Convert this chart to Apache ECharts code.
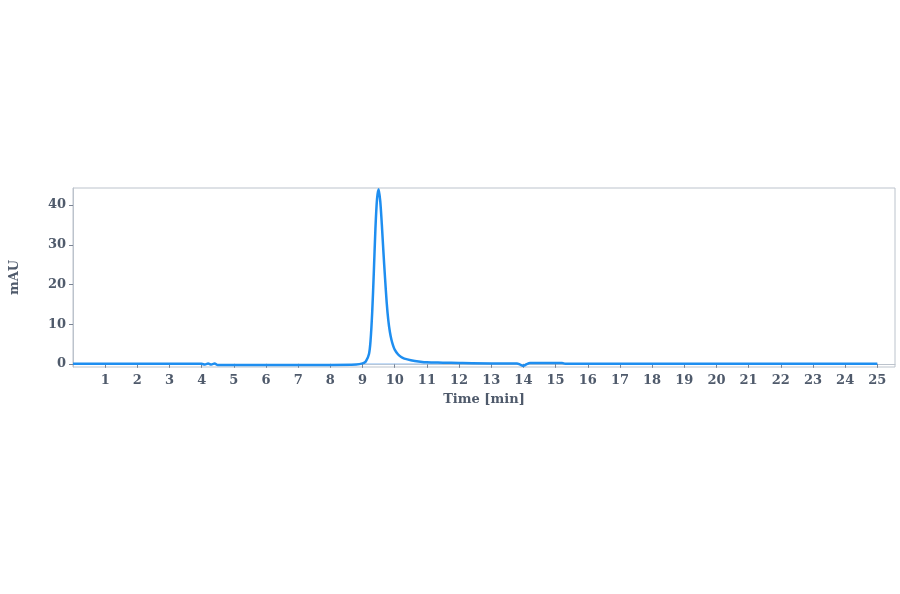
<!DOCTYPE html>
<html>
<head>
<meta charset="utf-8">
<script src="https://cdn.jsdelivr.net/npm/echarts@6/dist/echarts.min.js"></script>
<style>
html,body{margin:0;padding:0;background:#ffffff;}
#chart{width:900px;height:594px;}
</style>
</head>
<body>
<div id="chart"></div>
<script>
// Time (min) and absorbance (mAU)
const times = [0, 1, 2, 3, 4, 4.1, 4.2, 4.3, 4.4, 4.5, 4.6, 5, 6, 7, 8, 8.8, 9.0, 9.1, 9.2, 9.25, 9.3, 9.35, 9.4, 9.45, 9.5, 9.55, 9.6, 9.65, 9.7, 9.75, 9.8, 9.85, 9.9, 9.95, 10.0, 10.1, 10.2, 10.3, 10.5, 10.8, 11.0, 11.5, 12, 13, 13.8, 13.9, 14.0, 14.1, 14.2, 15.2, 15.3, 16, 17, 18, 19, 20, 21, 22, 23, 24, 25];
const mAU   = [0, 0, 0, 0, 0, -0.2, 0.1, -0.2, 0.1, -0.3, -0.3, -0.3, -0.3, -0.3, -0.3, -0.2, 0.1, 0.6, 2.5, 6.0, 13, 23, 34, 41.5, 44, 41, 35, 28, 21.5, 15.5, 11, 8, 6, 4.6, 3.6, 2.4, 1.7, 1.3, 0.9, 0.55, 0.4, 0.3, 0.2, 0.1, 0.1, -0.2, -0.5, -0.1, 0.2, 0.2, 0, 0, 0, 0, 0, 0, 0, 0, 0, 0, 0];
const baseTimes = [9.1, 11.5];
const baseVals = [0, 0];
const xTicks = [1,2,3,4,5,6,7,8,9,10,11,12,13,14,15,16,17,18,19,20,21,22,23,24,25];
const yTicks = [0, 10, 20, 30, 40];

const font = 'DejaVu Serif';
const txt = '#4f5a6b';
const chart = echarts.init(document.getElementById('chart'));
chart.setOption({
  backgroundColor: '#ffffff',
  animation: false,
  grid: {left: 73, right: 5, top: 188, bottom: 227, show: true, borderColor: '#bcc3cc', borderWidth: 1},
  xAxis: {
    type: 'value', min: 0, max: 25.55,
    name: 'Time [min]', nameLocation: 'middle', nameGap: 26,
    nameTextStyle: {fontFamily: font, fontSize: 13, fontWeight: 'bold', color: txt},
    axisLine: {show: true, lineStyle: {color: '#bcc3cc'}},
    axisTick: {show: true, length: 4, lineStyle: {color: '#7a8494'}, customValues: xTicks},
    axisLabel: {fontFamily: font, fontSize: 13, fontWeight: 'bold', color: txt, margin: 7, customValues: xTicks},
    splitLine: {show: false}
  },
  yAxis: {
    type: 'value', min: -0.8, max: 44.3,
    name: 'mAU', nameLocation: 'middle', nameGap: 52, nameRotate: 90,
    nameTextStyle: {fontFamily: font, fontSize: 13, fontWeight: 'bold', color: txt},
    axisLine: {show: true, lineStyle: {color: '#bcc3cc'}},
    axisTick: {show: true, length: 4, lineStyle: {color: '#7a8494'}, customValues: yTicks},
    axisLabel: {fontFamily: font, fontSize: 13, fontWeight: 'bold', color: txt, margin: 7, customValues: yTicks},
    splitLine: {show: false}
  },
  series: [
    {
      type: 'line', data: baseTimes.map((t, i) => [t, baseVals[i]]),
      showSymbol: false, lineStyle: {color: '#a9cdf3', width: 1}, z: 1
    },
    {
      type: 'line', data: times.map((t, i) => [t, mAU[i]]),
      showSymbol: false, smooth: 0.3, lineStyle: {color: '#1e8ef0', width: 2.5}, z: 2
    }
  ]
});
</script>
</body>
</html>
